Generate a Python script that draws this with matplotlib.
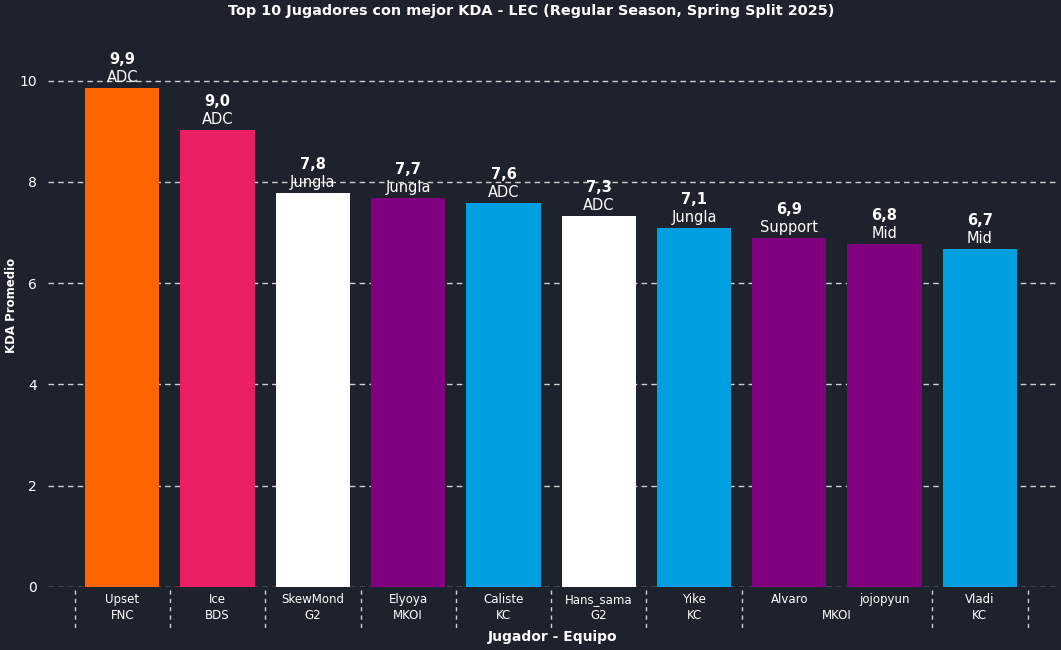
import numpy as np
import matplotlib
matplotlib.use("Agg")
import matplotlib.pyplot as plt

# ---------------------------------- data ----------------------------------
players = ["Upset", "Ice", "SkewMond", "Elyoya", "Caliste", "Hans_sama", "Yike", "Alvaro", "jojopyun", "Vladi"]
teams = ["FNC", "BDS", "G2", "MKOI", "KC", "G2", "KC", "MKOI", "MKOI", "KC"]
roles = ["ADC", "ADC", "Jungla", "Jungla", "ADC", "ADC", "Jungla", "Support", "Mid", "Mid"]
kda = [9.86, 9.03, 7.79, 7.69, 7.59, 7.33, 7.09, 6.90, 6.78, 6.68]
team_colors = {"FNC": "#FF6600", "BDS": "#E91E63", "G2": "#FFFFFF", "MKOI": "#800080", "KC": "#009FDF"}

bg = "#1e222d"
fg = "#ffffff"

# ---------------------------------- plot ----------------------------------
fig = plt.figure(figsize=(10.61, 6.5), dpi=100, facecolor=bg)
ax = fig.add_axes([48 / 1061, 1 - 587 / 650, 1010 / 1061, 557 / 650])
ax.set_facecolor(bg)

x = np.arange(len(players))
ax.bar(x, kda, width=0.78, color=[team_colors[t] for t in teams], zorder=3)

ax.set_xlim(-0.78, 9.82)
ax.set_ylim(0, 11)
ax.set_yticks(np.arange(0, 11, 2))
ax.yaxis.grid(True, color="#d0d0d0", linestyle=(0, (4, 3)), linewidth=1, zorder=1)
ax.tick_params(axis="y", colors=fg, labelsize=10, length=0, pad=8)
ax.set_xticks([])
for s in ax.spines.values():
    s.set_visible(False)

# value + role labels (offsets in points, 0.72 pt per px)
for xi, v, r in zip(x, kda, roles):
    ax.annotate(f"{v:.1f}".replace(".", ","), (xi, v), xytext=(0, 20.5), textcoords="offset points",
                ha="center", va="center", color=fg, fontsize=10.5, fontweight="bold", zorder=5)
    ax.annotate(r, (xi, v), xytext=(0, 7.5), textcoords="offset points",
                ha="center", va="center", color=fg, fontsize=10.5, zorder=5)

# two level x labels
trans = ax.get_xaxis_transform()
for xi, p in zip(x, players):
    ax.text(xi, -0.022, p, transform=trans, ha="center", va="center", color=fg, fontsize=8.5)

# team groups (consecutive identical teams are merged)
groups = []
start = 0
for i in range(1, len(teams) + 1):
    if i == len(teams) or teams[i] != teams[start]:
        groups.append((start, i - 1, teams[start]))
        start = i
for a, b, t in groups:
    ax.text((a + b) / 2, -0.052, t, transform=trans, ha="center", va="center", color=fg, fontsize=8.5)
seps = [-0.5] + [b + 0.5 for a, b, t in groups]
for s in seps:
    ax.plot([s, s], [-0.006, -0.075], transform=trans, color="#d0d0d0", linestyle=(0, (3, 3)),
            linewidth=1, clip_on=False)

ax.text(0.5, -0.089, "Jugador - Equipo", transform=ax.transAxes, ha="center", va="center",
        color=fg, fontsize=10, fontweight="bold")
fig.text(12 / 1061, 1 - 305 / 650, "KDA Promedio", rotation=90, ha="center", va="center",
         color=fg, fontsize=8.5, fontweight="bold")
fig.text(531 / 1061, 1 - 11 / 650, "Top 10 Jugadores con mejor KDA - LEC (Regular Season, Spring Split 2025)",
         ha="center", va="center", color=fg, fontsize=10.4, fontweight="bold")

fig.savefig("out.png", dpi=100, facecolor=bg)
